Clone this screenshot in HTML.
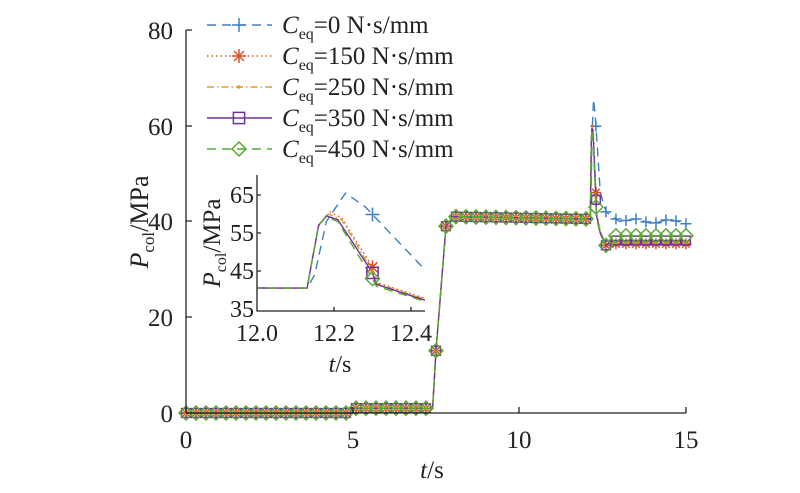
<!DOCTYPE html>
<html><head><meta charset="utf-8"><style>
body{margin:0;background:#fff}
svg{display:block}
svg,text,tspan{font-family:"Liberation Serif","Times New Roman","DejaVu Serif",serif !important}
</style></head><body>
<svg id="s" width="800" height="493" xmlns="http://www.w3.org/2000/svg" style="font-family:'Liberation Serif',serif">
<defs>
<clipPath id="ci"><rect x="257" y="175" width="168" height="136"/></clipPath>
</defs>
<g id="main"></g>
<g id="ins" clip-path="url(#ci)"></g>
<g id="mk"></g>
<g stroke="#222" stroke-width="1.3" fill="none">
<path d="M186,30 V413 H686"/>
<path d="M186,30h6M186,126h6M186,221h6M186,317h6M186,413h6M353,413v-6M519,413v-6M686,413v-6"/>
<path d="M257,175 V311 H425"/>
<path d="M257,195h4M257,233h4M257,271h4M334,311v-4M411,311v-4"/>
</g>
<g font-size="25" fill="#222" text-anchor="end">
<text x="173" y="39">80</text><text x="173" y="135">60</text><text x="173" y="230">40</text><text x="173" y="326">20</text><text x="173" y="422">0</text>
</g>
<g font-size="25" fill="#222" text-anchor="middle">
<text x="186" y="448">0</text><text x="353" y="448">5</text><text x="519" y="448">10</text><text x="686" y="448">15</text>
<text x="432" y="478"><tspan font-style="italic">t</tspan>/s</text>
</g>
<text transform="translate(148,222) rotate(-90)" font-size="26" fill="#222" text-anchor="middle"><tspan font-style="italic">P</tspan><tspan font-size="17" dy="6">col</tspan><tspan dy="-6">/MPa</tspan></text>
<g font-size="24" fill="#222" text-anchor="end">
<text x="254" y="203">65</text><text x="254" y="241">55</text><text x="254" y="279">45</text><text x="254" y="317">35</text>
</g>
<g font-size="24" fill="#222" text-anchor="middle">
<text x="257" y="341">12.0</text><text x="334" y="341">12.2</text><text x="411" y="341">12.4</text>
<text x="340" y="372"><tspan font-style="italic">t</tspan>/s</text>
</g>
<text transform="translate(220,243) rotate(-90)" font-size="25" fill="#222" text-anchor="middle"><tspan font-style="italic">P</tspan><tspan font-size="16" dy="6">col</tspan><tspan dy="-6">/MPa</tspan></text>
<g id="leg"></g>
</svg>
<script>
const NS="http://www.w3.org/2000/svg";
function el(p,t,a){const e=document.createElementNS(NS,t);for(const k in a)e.setAttribute(k,a[k]);p.appendChild(e);return e;}
const base=[[0,0],[5.0,0],[5.05,1],[7.4,1],[7.5,13],[7.8,39],[8.0,41],[12.13,40.5]];
const S=[
{c:"#3f7fc4",d:"9,6",m:"plus",lab:"0",p:[[12.15,44],[12.18,58],[12.23,65.5],[12.28,62],[12.43,46],[12.6,42],[13,40],[13.5,40.5],[14,39.5],[14.5,40.5],[15,39.5]]},
{c:"#d9532c",d:"1.5,3",m:"star",lab:"150",p:[[12.16,57],[12.19,60.5],[12.22,59],[12.3,46],[12.31,42],[12.43,38],[12.6,35],[12.8,35.3],[15,35.3]]},
{c:"#e0a020",d:"7,3,1.5,3",m:"dot",lab:"250",p:[[12.16,57],[12.185,60],[12.22,58.5],[12.3,45],[12.31,41.8],[12.43,37.8],[12.6,35.2],[12.8,35.6],[15,35.6]]},
{c:"#7030a0",d:"",m:"sq",lab:"350",p:[[12.16,57],[12.18,59.5],[12.21,58.5],[12.3,44.5],[12.31,41.5],[12.43,37.5],[12.6,35],[12.8,36],[15,36]]},
{c:"#5aaa32",d:"9,6",m:"dia",lab:"450",p:[[12.16,57],[12.18,59.3],[12.21,58],[12.3,43],[12.31,41],[12.43,37.2],[12.6,35],[12.8,37],[15,37]]}
];
function f(pts,t){for(let i=1;i<pts.length;i++){if(t<=pts[i][0]){const a=pts[i-1],b=pts[i];return a[1]+(b[1]-a[1])*(t-a[0])/(b[0]-a[0]||1);}}return pts[pts.length-1][1];}
const mx=t=>186+33.33*t, my=v=>413-4.79*v;
const ix=t=>257+385*(t-12), iy=v=>309-3.8*(v-35);
function marker(g,type,x,y,c,s){
 const a={stroke:c,"stroke-width":1.5,fill:"none"};
 if(type=="plus")el(g,"path",Object.assign(a,{d:`M${x-s},${y}h${2*s}M${x},${y-s}v${2*s}`}));
 else if(type=="star")el(g,"path",Object.assign(a,{d:`M${x-s},${y}h${2*s}M${x},${y-s}v${2*s}M${x-s*.7},${y-s*.7}l${1.4*s},${1.4*s}M${x-s*.7},${y+s*.7}l${1.4*s},${-1.4*s}`}));
 else if(type=="dot")el(g,"circle",{cx:x,cy:y,r:1.8,fill:c});
 else if(type=="sq")el(g,"rect",Object.assign(a,{x:x-s*.8,y:y-s*.8,width:1.6*s,height:1.6*s}));
 else el(g,"path",Object.assign(a,{d:`M${x},${y-s}l${s},${s}l${-s},${s}l${-s},${-s}z`}));
}
const gm=document.getElementById("main"),gi=document.getElementById("ins"),gk=document.getElementById("mk"),gl=document.getElementById("leg");
S.forEach((s,k)=>{
 const pts=base.concat(s.p);
 el(gm,"polyline",{points:pts.map(p=>mx(p[0]).toFixed(1)+","+my(p[1]).toFixed(1)).join(" "),fill:"none",stroke:s.c,"stroke-width":1.4,"stroke-dasharray":s.d});
 const ip=[];for(let t=11.99;t<=12.45;t+=0.005)ip.push([t,f(pts,t)]);
 el(gi,"polyline",{points:ip.map(p=>ix(p[0]).toFixed(1)+","+iy(p[1]).toFixed(1)).join(" "),fill:"none",stroke:s.c,"stroke-width":1.4,"stroke-dasharray":s.d});
 for(let t=0;t<=15.001;t+=0.3){marker(gm,s.m,mx(t),my(f(pts,t)),s.c,s.m=="dia"?7:5.5);}
 marker(gk,s.m,ix(12.3),iy(f(pts,12.3)),s.c,7);
 const y=25+31*k;
 el(gl,"line",{x1:207,y1:y,x2:272,y2:y,stroke:s.c,"stroke-width":1.4,"stroke-dasharray":s.d});
 marker(gl,s.m,239,y,s.c,7);
 const t=el(gl,"text",{x:282,y:y+8,"font-size":25,fill:"#222"});
 t.innerHTML=`<tspan font-style="italic">C</tspan><tspan font-size="16" dy="6">eq</tspan><tspan dy="-6">=${s.lab} N·s/mm</tspan>`;
});
</script>
</body></html>
